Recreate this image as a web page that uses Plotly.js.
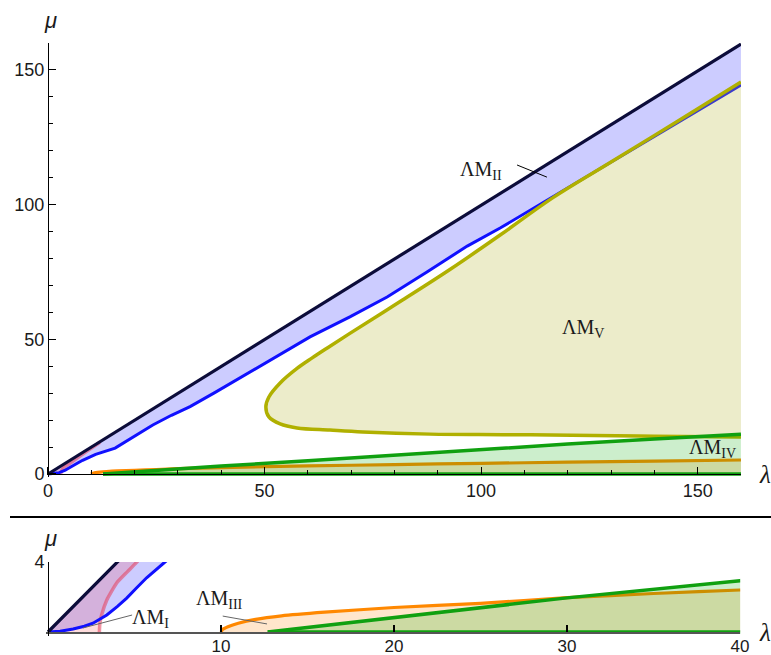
<!DOCTYPE html>
<html>
<head>
<meta charset="utf-8">
<script src="https://cdn.plot.ly/plotly-3.0.1.min.js"></script>
<style>html,body{margin:0;padding:0;background:#fff;}#chart{width:771px;height:655px;}</style>
</head>
<body>
<div id="chart"></div>
<script>
// ---- data (λ, μ) ----
const blackX = [0, 160];
const blackY = [0, 159.6];

const blueX = [0, 0.7, 1.45, 2.1, 2.6, 3.0, 3.4, 4.0, 4.55, 5.1, 5.7, 6.76, 8, 11, 15.5, 20, 24.2, 28.5, 32.8, 38.5, 44.3, 51.3, 60.5, 69.7, 78.3, 87.5, 96.8, 104.4, 116.6, 138, 160];
const blueY = [0, 0.04, 0.17, 0.33, 0.5, 0.72, 0.97, 1.45, 1.94, 2.5, 3.1, 4.0, 5.1, 7.3, 9.6, 14.2, 18.2, 21.8, 25, 30.2, 35.6, 42.3, 50.9, 58.3, 65.7, 75, 84.6, 91.3, 103, 123.6, 144.4];

const pinkX = [0, 2.97, 3.0, 3.1, 3.4, 3.97, 4.6, 5.1, 6.5, 9, 12];
const pinkY = [0, 0, 0.5, 0.97, 1.83, 2.8, 3.45, 3.96, 5.6, 8.5, 11.8];

const oliveX = [160, 140, 121, 105, 88.2, 72.7, 65.1, 57.5, 53.6, 51.0, 50.3, 51.0, 53.6, 57.5, 61, 64.4, 69.7, 81.3, 92.8, 104.4, 116.6, 130, 145, 160];
const oliveY = [13.7, 14.0, 14.4, 14.6, 14.8, 15.6, 16.3, 17.1, 18.6, 21.2, 24.9, 28.6, 33.8, 39.2, 43.1, 46.7, 52.2, 64.0, 75.9, 88.7, 102.6, 115.8, 130.6, 145.5];

const orangeX = [10, 10.1, 10.4, 11, 12, 13.5, 16, 20, 25, 30, 35, 40, 60, 80, 100, 120, 140, 160];
const orangeY = [0, 0.15, 0.3, 0.5, 0.72, 0.92, 1.13, 1.4, 1.64, 1.96, 2.2, 2.4, 3.0, 3.5, 3.95, 4.4, 4.8, 5.2];

const greenX = [12.7, 20, 30, 40, 60, 80, 100, 120, 140, 160];
const greenY = [0, 0.82, 1.95, 2.93, 4.9, 7.0, 9.2, 11.1, 13.0, 14.8];
const greenBaseX = [12.7, 160];
const greenBaseY = [0, 0];

const labelText = ["ΛM<sub>I</sub>", "ΛM<sub>II</sub>", "ΛM<sub>III</sub>", "ΛM<sub>IV</sub>", "ΛM<sub>V</sub>"];
const topTicks = [0, 50, 100, 150];
const bottomXTicks = [10, 20, 30, 40];
const bottomYTicks = [4];

// ---- geometry helpers ----
const W = 771, H = 655;
function px(x) { return x / W; }
function py(y) { return 1 - y / H; }
const topMap = {x0: 48, y0: 474, sx: 4.331, sy: 2.694, xr: [-0.3, 160.01], yr: [-1.2, 160.05]};
const botMap = {x0: 48, y0: 632, sx: 17.3, sy: 17.5, xr: [-0.1, 40.01], yr: [-0.2, 4]};
function xdom(m) { return [px(m.x0 + m.xr[0] * m.sx), px(m.x0 + m.xr[1] * m.sx)]; }
function ydom(m) { return [py(m.y0 - m.yr[0] * m.sy), py(m.y0 - m.yr[1] * m.sy)]; }

function makeTraces(xa, ya) {
  const base = {xaxis: xa, yaxis: ya, hoverinfo: 'skip', type: 'scatter'};
  const t = [];
  t.push(Object.assign({}, base, {
    x: blackX.concat(blueX.slice().reverse()), y: blackY.concat(blueY.slice().reverse()),
    mode: 'none', fill: 'toself', fillcolor: 'rgba(0,0,255,0.2)'}));
  t.push(Object.assign({}, base, {
    x: pinkX, y: pinkY, mode: 'none', fill: 'toself', fillcolor: 'rgba(255,40,40,0.16)',
    line: {shape: 'spline', smoothing: 0.5}}));
  t.push(Object.assign({}, base, {
    x: pinkX.slice(1), y: pinkY.slice(1), mode: 'lines', line: {color: 'rgba(230,60,90,0.55)', width: 3.5, shape: 'spline', smoothing: 0.5}}));
  t.push(Object.assign({}, base, {x: blueX, y: blueY, mode: 'lines', line: {color: '#1010ff', width: 3}}));
  t.push(Object.assign({}, base, {x: blackX, y: blackY, mode: 'lines', line: {color: '#0c0c3a', width: 3.2}}));
  t.push(Object.assign({}, base, {
    x: oliveX, y: oliveY, mode: 'lines', fill: 'toself', fillcolor: 'rgba(185,185,60,0.27)',
    line: {color: '#b0b000', width: 3.5, shape: 'spline', smoothing: 1}}));
  t.push(Object.assign({}, base, {
    x: orangeX, y: orangeY, mode: 'lines', fill: 'tozeroy', fillcolor: 'rgba(255,128,0,0.2)',
    line: {color: '#ff8800', width: 3.2, shape: 'spline', smoothing: 0.5}}));
  t.push(Object.assign({}, base, {
    x: greenX, y: greenY, mode: 'lines', fill: 'tozeroy', fillcolor: 'rgba(0,170,0,0.2)',
    line: {color: 'rgba(0,0,0,0)', width: 0}}));
  t.push(Object.assign({}, base, {x: greenX, y: greenY, mode: 'lines', line: {color: '#10a010', width: 3.5}}));
  t.push(Object.assign({}, base, {x: greenBaseX, y: greenBaseY, mode: 'lines', line: {color: '#10a010', width: 3.5}}));
  return t;
}

const data = makeTraces('x', 'y').concat(makeTraces('x2', 'y2'));

const tickFont = {family: 'Liberation Sans, Arial, sans-serif', size: 18, color: '#1a1a1a'};
const axBase = {showgrid: false, zeroline: false, showline: true, linecolor: '#000', linewidth: 1.2,
  ticks: 'inside', tickcolor: '#000', tickwidth: 1.2, ticklen: 7, tickfont: tickFont, fixedrange: true};

const layout = {
  width: W, height: H, margin: {l: 0, r: 0, t: 0, b: 0},
  paper_bgcolor: '#fff', plot_bgcolor: 'rgba(0,0,0,0)', showlegend: false,
  xaxis: Object.assign({}, axBase, {domain: xdom(topMap), range: topMap.xr, anchor: 'free', position: py(topMap.y0),
    tickmode: 'array', tickvals: topTicks, minor: {dtick: 10, tick0: 0, ticks: 'inside', ticklen: 4, tickcolor: '#000', tickwidth: 1}}),
  yaxis: Object.assign({}, axBase, {domain: ydom(topMap), range: topMap.yr, anchor: 'free', position: px(topMap.x0),
    tickmode: 'array', tickvals: topTicks, minor: {dtick: 10, tick0: 0, ticks: 'inside', ticklen: 4, tickcolor: '#000', tickwidth: 1}}),
  xaxis2: Object.assign({}, axBase, {domain: xdom(botMap), range: botMap.xr, anchor: 'free', position: py(botMap.y0),
    tickmode: 'array', tickvals: bottomXTicks, linecolor: '#555', linewidth: 1.6,
    tickfont: {family: 'Liberation Sans, Arial, sans-serif', size: 17, color: '#1a1a1a'}, ticklabelstandoff: -2}),
  yaxis2: Object.assign({}, axBase, {domain: ydom(botMap), range: botMap.yr, anchor: 'free', position: px(botMap.x0),
    tickmode: 'array', tickvals: bottomYTicks}),
  shapes: [
    {type: 'line', xref: 'paper', yref: 'paper', x0: px(10), x1: 1, y0: py(517), y1: py(517), line: {color: '#000', width: 2}},
    {type: 'line', xref: 'x', yref: 'y', x0: 108.3, y0: 114.7, x1: 115.2, y1: 110.2, line: {color: '#000', width: 1}},
    {type: 'line', xref: 'x2', yref: 'y2', x0: 2.02, y0: 0.23, x1: 4.86, y1: 0.97, line: {color: '#666', width: 1}},
    {type: 'line', xref: 'x2', yref: 'y2', x0: 10.1, y0: 0.91, x1: 12.66, y1: 0.46, line: {color: '#666', width: 1}}
  ],
  annotations: []
};

const serif = {family: 'Liberation Serif, Times New Roman, serif', size: 20, color: '#1a1a1a'};
function lab(text, xref, yref, x, y) {
  return {text: text, xref: xref, yref: yref, x: x, y: y, showarrow: false, xanchor: 'center', yanchor: 'middle', font: serif};
}
layout.annotations.push(lab(labelText[1], 'x', 'y', 100, 112.5));
layout.annotations.push(lab(labelText[4], 'x', 'y', 123.5, 54));
layout.annotations.push(lab(labelText[3], 'x', 'y', 153.5, 9.5));
layout.annotations.push(lab(labelText[2], 'x2', 'y2', 9.9, 1.85));
layout.annotations.push(lab(labelText[0], 'x2', 'y2', 5.95, 0.8));
const muFont = {family: 'Liberation Sans, Arial, sans-serif', size: 22, color: '#1a1a1a', style: 'italic'};
const laFont = {family: 'Liberation Serif, Times New Roman, serif', size: 25, color: '#1a1a1a', style: 'italic'};
layout.annotations.push({text: 'μ', xref: 'paper', yref: 'paper', x: px(50), y: py(20), showarrow: false, xanchor: 'center', yanchor: 'middle', font: muFont});
layout.annotations.push({text: 'μ', xref: 'paper', yref: 'paper', x: px(50), y: py(538), showarrow: false, xanchor: 'center', yanchor: 'middle', font: muFont});
layout.annotations.push({text: 'λ', xref: 'paper', yref: 'paper', x: px(765), y: py(474), showarrow: false, xanchor: 'center', yanchor: 'middle', font: laFont});
layout.annotations.push({text: 'λ', xref: 'paper', yref: 'paper', x: px(765), y: py(632), showarrow: false, xanchor: 'center', yanchor: 'middle', font: laFont});

Plotly.newPlot('chart', data, layout, {staticPlot: true, displayModeBar: false});
</script>
</body>
</html>
